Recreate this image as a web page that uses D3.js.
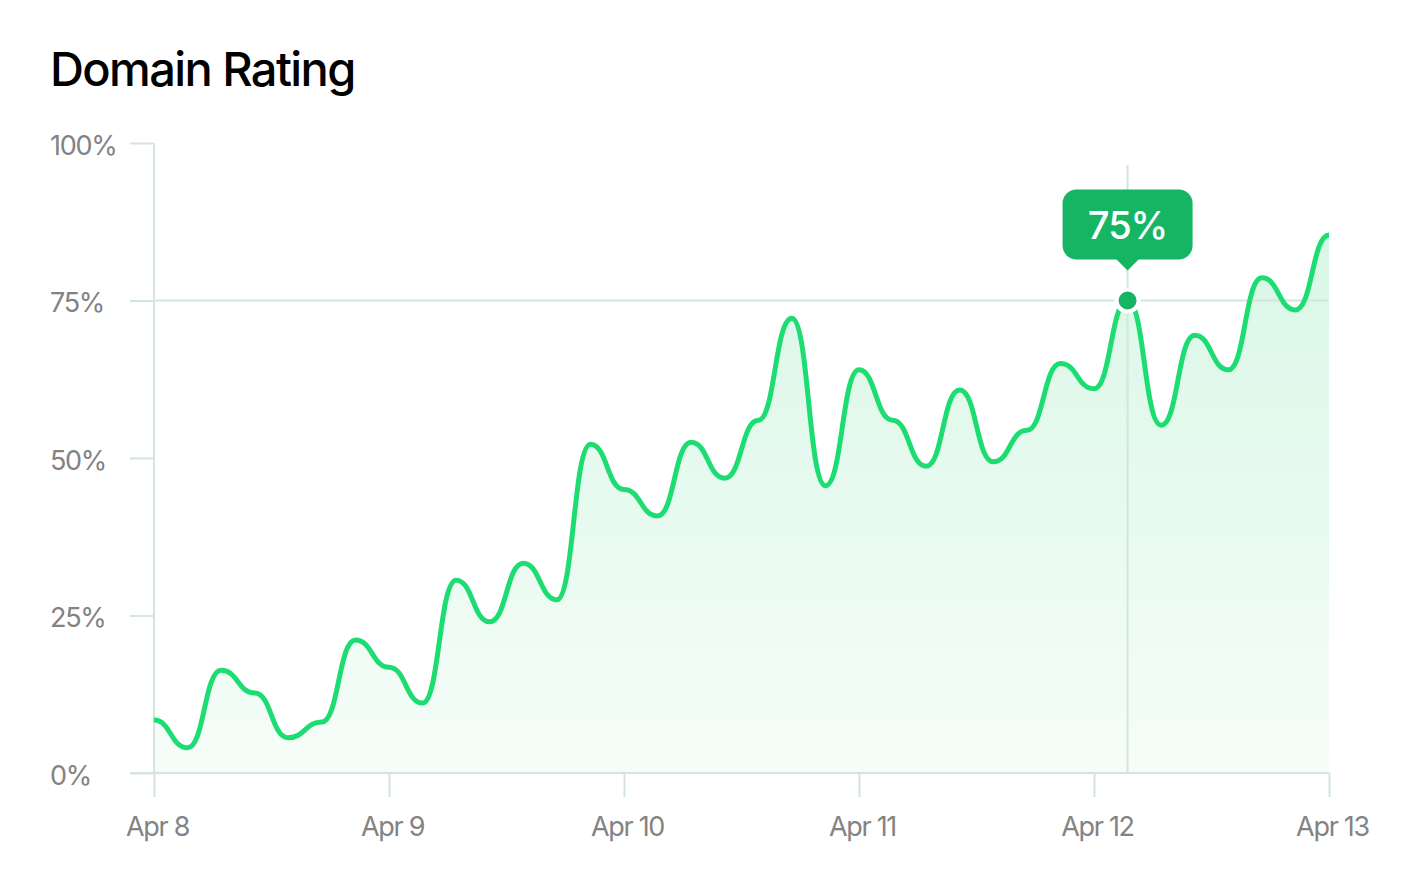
<!DOCTYPE html>
<html>
<head>
<meta charset="utf-8">
<style>
body { margin: 0; background: #ffffff; }
.title { font-family: Inter, "Noto Sans", sans-serif; font-size: 47px; font-weight: 500; fill: #000; letter-spacing: -1.6px; }
.tick text { font-family: Inter, "Noto Sans", sans-serif; font-size: 27px; fill: #838383; letter-spacing: -1.3px; }
.tick line, .domain { stroke: #d3e5dc; stroke-width: 2px; }
.tip-text { font-family: Inter, "Noto Sans", sans-serif; font-size: 38px; font-weight: 500; fill: #fff; letter-spacing: -1px; }
</style>
<script src="https://d3js.org/d3.v7.min.js"></script>
</head>
<body>
<script>

// values in percent, sampled every 24/7 hours from Apr 8 to Apr 13
var values = [8.4, 4.0, 16.3, 12.7, 5.6, 8.1, 21.1, 16.8, 11.1, 30.6, 24.0, 33.3, 27.5, 52.2,
              45.0, 40.8, 52.5, 46.8, 56.0, 72.2, 45.6, 64.0, 56.0, 48.7, 60.8, 49.4, 54.4,
              65.0, 61.0, 75.0, 55.2, 69.5, 64.0, 78.6, 73.5, 85.4];
var dayTicks = ["Apr 8", "Apr 9", "Apr 10", "Apr 11", "Apr 12", "Apr 13"];
var yTicks = [0, 25, 50, 75, 100];
var highlight = 29;

var width = 1425, height = 885;
var margin = {top: 143, left: 154, right: 96, bottom: 112};

var start = new Date(2024, 3, 8);
var stepMs = 24 / 7 * 3600 * 1000;
var data = values.map(function(v, i) { return {date: new Date(start.getTime() + i * stepMs), value: v}; });

var svg = d3.select("body").append("svg")
    .attr("width", width)
    .attr("height", height);

var x = d3.scaleTime()
    .domain([start, new Date(2024, 3, 13)])
    .range([margin.left, width - margin.right]);

var y = d3.scaleLinear()
    .domain([0, 100])
    .range([height - margin.bottom, margin.top]);

var defs = svg.append("defs");
var grad = defs.append("linearGradient")
    .attr("id", "fillGrad")
    .attr("x1", 0).attr("y1", 0).attr("x2", 0).attr("y2", 1);
grad.append("stop").attr("offset", "0%").attr("stop-color", "#d9f7e6");
grad.append("stop").attr("offset", "100%").attr("stop-color", "#f6fdf9");

svg.append("text")
    .attr("class", "title")
    .attr("x", 50)
    .attr("y", 86)
    .text("Domain Rating");

// area under the line
var area = d3.area()
    .curve(d3.curveBumpX)
    .x(function(d) { return x(d.date); })
    .y0(y(0))
    .y1(function(d) { return y(d.value); });

svg.append("path")
    .datum(data)
    .attr("fill", "url(#fillGrad)")
    .attr("d", area);

// axes
var xAxis = svg.append("g")
    .attr("transform", "translate(0," + y(0) + ")")
    .call(d3.axisBottom(x)
        .ticks(d3.timeDay.every(1))
        .tickSize(24)
        .tickPadding(20)
        .tickFormat(function(d, i) { return dayTicks[i]; }));
xAxis.select(".domain").attr("d", "M" + (margin.left - 24) + ",0H" + (width - margin.right));
xAxis.selectAll(".tick text").attr("dx", 3);

var yAxis = svg.append("g")
    .attr("transform", "translate(" + margin.left + ",0)")
    .call(d3.axisLeft(y)
        .tickValues(yTicks)
        .tickSize(24)
        .tickFormat(function(d) { return d + "%"; }));
yAxis.select(".domain").attr("d", "M0," + y(100) + "V" + y(0));
yAxis.selectAll(".tick text")
    .attr("text-anchor", "start")
    .attr("x", 50 - margin.left)
    .attr("dy", "0.42em");

// crosshair for the highlighted point
var hp = data[highlight];
svg.append("line")
    .attr("x1", margin.left).attr("x2", width - margin.right)
    .attr("y1", y(hp.value)).attr("y2", y(hp.value))
    .attr("stroke", "#d3e5dc").attr("stroke-width", 2);
svg.append("line")
    .attr("x1", x(hp.date)).attr("x2", x(hp.date))
    .attr("y1", 165).attr("y2", y(0))
    .attr("stroke", "#d3e5dc").attr("stroke-width", 2);

// line
var line = d3.line()
    .curve(d3.curveBumpX)
    .x(function(d) { return x(d.date); })
    .y(function(d) { return y(d.value); });

svg.append("path")
    .datum(data)
    .attr("fill", "none")
    .attr("stroke", "#1ddd72")
    .attr("stroke-width", 5)
    .attr("stroke-linejoin", "round")
    .attr("d", line);

svg.append("circle")
    .attr("cx", x(hp.date))
    .attr("cy", y(hp.value))
    .attr("r", 11)
    .attr("fill", "#15b563")
    .attr("stroke", "#fff")
    .attr("stroke-width", 4);

// tooltip
var tx = x(hp.date), ty = y(hp.value) - 41;
var tip = svg.append("g").attr("transform", "translate(" + tx + "," + ty + ")");
tip.append("rect")
    .attr("x", -65).attr("y", -70)
    .attr("width", 130).attr("height", 70)
    .attr("rx", 14)
    .attr("fill", "#15b563");
tip.append("path")
    .attr("d", "M-12,-1L0,11L12,-1Z")
    .attr("fill", "#15b563");
tip.append("text")
    .attr("class", "tip-text")
    .attr("text-anchor", "middle")
    .attr("y", -21)
    .text(hp.value + "%");

</script>
</body>
</html>
